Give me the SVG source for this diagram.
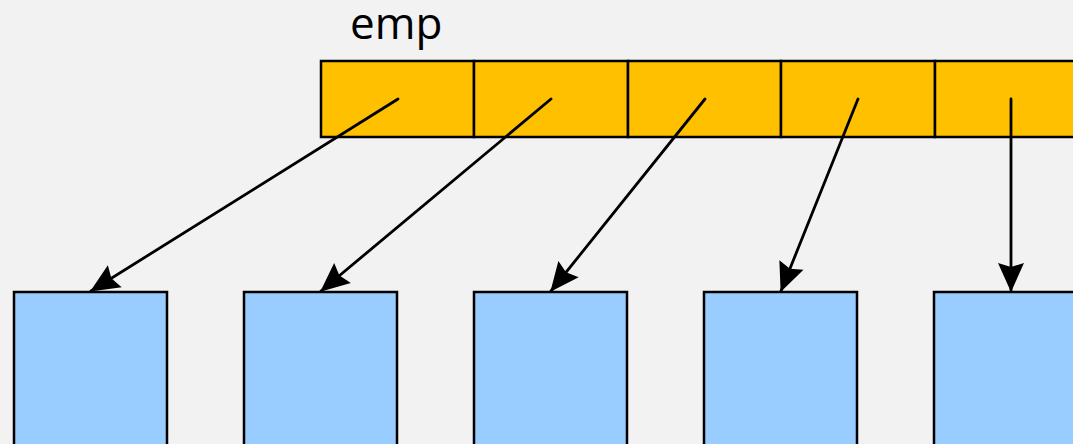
<svg xmlns="http://www.w3.org/2000/svg" width="1073" height="444" viewBox="0 0 1073 444">
<style>
.cell{fill:#ffc000;stroke:#000;stroke-width:2.5}
.box{fill:#99ccff;stroke:#000;stroke-width:2.5}
.conn{stroke:#000;stroke-width:2.8;fill:none;stroke-linecap:round;marker-end:url(#arr)}
.lbl{font-family:"Open Sans","Liberation Sans",sans-serif;font-size:44px;fill:#000}
</style>
<defs>
<marker id="arr" markerUnits="userSpaceOnUse" markerWidth="32" markerHeight="32" viewBox="-30 -16 32 32" refX="0" refY="0" orient="auto">
<path d="M1,0 L-28,-13 L-24,0 L-28,13 Z" fill="#000"/>
</marker>
</defs>
<rect width="1073" height="444" fill="#f2f2f2"/>
<text class="lbl" x="350" y="39">emp</text>
<g id="array">
<rect id="cell0" class="cell" x="321" y="61" width="153" height="76"/>
<rect id="cell1" class="cell" x="474" y="61" width="154" height="76"/>
<rect id="cell2" class="cell" x="628" y="61" width="153" height="76"/>
<rect id="cell3" class="cell" x="781" y="61" width="154" height="76"/>
<rect id="cell4" class="cell" x="935" y="61" width="154" height="76"/>
</g>
<g id="box0"><rect class="box" x="14" y="292" width="153" height="160"/></g>
<g id="box1"><rect class="box" x="244" y="292" width="153" height="160"/></g>
<g id="box2"><rect class="box" x="474" y="292" width="153" height="160"/></g>
<g id="box3"><rect class="box" x="704" y="292" width="153" height="160"/></g>
<g id="box4"><rect class="box" x="934" y="292" width="153" height="160"/></g>
<g id="connectors">
<line class="conn" x1="398" y1="99" x2="91" y2="291"/>
<line class="conn" x1="551" y1="99" x2="321" y2="291"/>
<line class="conn" x1="705" y1="99" x2="551" y2="291"/>
<line class="conn" x1="858" y1="99" x2="781" y2="291"/>
<line class="conn" x1="1011" y1="99" x2="1011" y2="291"/>
</g>
</svg>
